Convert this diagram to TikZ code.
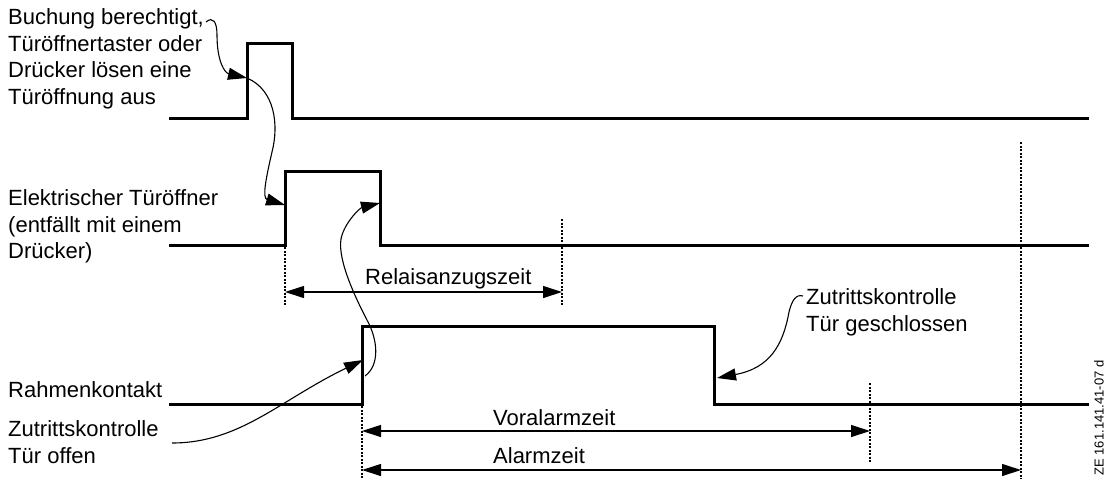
\documentclass[tikz,border=0pt]{standalone}
\usepackage{fontspec}
\setmainfont{Liberation Sans}
\usetikzlibrary{arrows.meta}
\begin{document}
\begin{tikzpicture}[x=1pt,y=-1pt,
  signal/.style={line width=3pt,line join=miter,line cap=rect},
  marker/.style={line width=1.4pt,dash pattern=on 2pt off 1.5pt},
  pointer/.style={line width=1.1pt,-{Triangle[length=19pt,width=12pt]}},
  span/.style={line width=1.1pt,{Triangle[length=19pt,width=12pt]}-{Triangle[length=19pt,width=12pt]}},
  lbl/.style={inner sep=0pt,align=left,font={\fontsize{22}{26.5}\selectfont}},
  dim/.style={inner sep=0pt,font={\fontsize{22}{26.5}\selectfont}}]
\useasboundingbox (0,0) rectangle (1105,479);
% signals
\draw[signal] (170,118) -- (247,118) -- (247,43) -- (292,43) -- (292,118) -- (1087,118);
\draw[signal] (170,245) -- (285,245) -- (285,171) -- (380,171) -- (380,245) -- (1087,245);
\draw[signal] (170,404) -- (362,404) -- (362,326) -- (714,326) -- (714,404) -- (1087,404);
% named points
\coordinate (p1up) at (247,78);
\coordinate (p2up) at (285,205);
\coordinate (p2down) at (380,203);
\coordinate (p3up) at (363,360);
\coordinate (p3start) at (365,376);
\coordinate (p3down) at (717,378);
% markers
\coordinate (m1a) at (285,247); \coordinate (m1b) at (285,305);
\coordinate (m2a) at (562,219); \coordinate (m2b) at (562,305);
\coordinate (m3a) at (362,406); \coordinate (m3b) at (362,479);
\coordinate (m4a) at (870,383); \coordinate (m4b) at (870,463);
\coordinate (m5a) at (1021,142); \coordinate (m5b) at (1021,479);
\draw[marker] (m1a) -- (m1b);
\draw[marker] (m2a) -- (m2b);
\draw[marker] (m3a) -- (m3b);
\draw[marker] (m4a) -- (m4b);
\draw[marker] (m5a) -- (m5b);
% spans
\coordinate (r1) at (285,292); \coordinate (r2) at (562,292);
\coordinate (v1) at (362,431); \coordinate (v2) at (870,431);
\coordinate (a1) at (362,470); \coordinate (a2) at (1021,470);
\draw[span] (r1) -- (r2);
\draw[span] (v1) -- (v2);
\draw[span] (a1) -- (a2);
\node[dim,anchor=base west] (trel) at (365,284) {Relaisanzugszeit};
\node[dim,anchor=base west] (tvor) at (493,425) {Voralarmzeit};
\node[dim,anchor=base west] (talarm) at (493,463) {Alarmzeit};
% labels
\node[lbl,anchor=north west] (tbuch) at (8,8.5) {Buchung berechtigt,\\Türöffnertaster oder\\Drücker lösen eine\\Türöffnung aus};
\node[lbl,anchor=north west] (telek) at (8,189.5) {Elektrischer Türöffner\\(entfällt mit einem\\Drücker)};
\node[lbl,anchor=base west] (trahmen) at (8,397) {Rahmenkontakt};
\node[lbl,anchor=north west] (toffen) at (8,420.5) {Zutrittskontrolle\\Tür offen};
\node[lbl,anchor=north west] (tzu) at (806,288.5) {Zutrittskontrolle\\Tür geschlossen};
\node[inner sep=0pt,rotate=90,font={\fontsize{13}{15}\selectfont}] (tid) at (1099,418) {ZE 161.141.41-07 d};
% pointers
\coordinate (s1) at (206,22);
\coordinate (s3) at (172,443);
\coordinate (s5) at (803,296);
\draw[pointer] (s1) .. controls (213,16) and (217,22) .. (217,35) .. controls (217,62) and (225,73) .. (p1up);
\draw[pointer] (p1up) .. controls (275,90) and (279,125) .. (272,152) .. controls (266,178) and (262,198) .. (p2up);
\draw[pointer] (s3) .. controls (240,443) and (280,400) .. (p3up);
\draw[pointer] (p3start) .. controls (380,365) and (378,340) .. (367,320) .. controls (355,297) and (335,255) .. (342,235) .. controls (347,220) and (360,208) .. (p2down);
\draw[pointer] (s5) .. controls (796,294) and (792,300) .. (789,312) .. controls (783,345) and (770,368) .. (p3down);
\end{tikzpicture}
\end{document}
